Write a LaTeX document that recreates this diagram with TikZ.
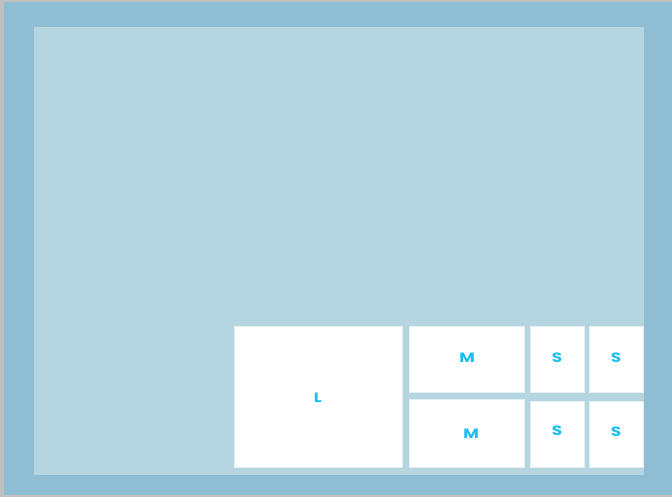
\documentclass[tikz,border=0pt]{standalone}
\usepackage{fontspec}
\setmainfont{Poppins}[FakeStretch=1.25]
\usepackage{tikz}
\usepackage{xcolor}
\definecolor{frameblue}{RGB}{143,189,211}
\definecolor{paneblue}{RGB}{181,213,225}
\definecolor{edgeblue}{RGB}{228,239,244}
\definecolor{tagcyan}{RGB}{30,190,240}
\definecolor{backgrey}{RGB}{192,192,192}
\begin{document}
\begin{tikzpicture}[x=1pt,y=-1pt,
box/.style={fill=white,draw=edgeblue,line width=0.8pt,inner sep=0pt,anchor=center},
tag/.style={text=tagcyan,font=\fontsize{13.5}{15}\selectfont\bfseries,inner sep=0pt}]
\useasboundingbox(0,0)rectangle(672,497);
\fill[backgrey](0,0)rectangle(672,497);
\fill[frameblue](4,2)rectangle(672,494.5);
\fill[paneblue](34,27)rectangle(644,475);
% size classes, large to small
\node[box,minimum width=168pt,minimum height=141pt](large)at(318,396.5){};
\node[box,minimum width=115pt,minimum height=66pt](medA)at(466.5,359){};
\node[box,minimum width=115pt,minimum height=68.5pt](medB)at(466.5,433.25){};
\node[box,minimum width=54pt,minimum height=66.5pt](smallA)at(557,359.25){};
\node[box,minimum width=54.5pt,minimum height=66.5pt](smallB)at(616.25,359.25){};
\node[box,minimum width=54pt,minimum height=66pt](smallC)at(557,434){};
\node[box,minimum width=54.5pt,minimum height=66pt](smallD)at(616.25,434){};
\node[tag](largetag)at(318,398){L};
\node[tag](medAtag)at(467,358){M};
\node[tag](medBtag)at(471,434){M};
\node[tag](smallAtag)at(557,358){S};
\node[tag](smallBtag)at(616,358){S};
\node[tag](smallCtag)at(557,431){S};
\node[tag](smallDtag)at(616,432){S};
\end{tikzpicture}
\end{document}
